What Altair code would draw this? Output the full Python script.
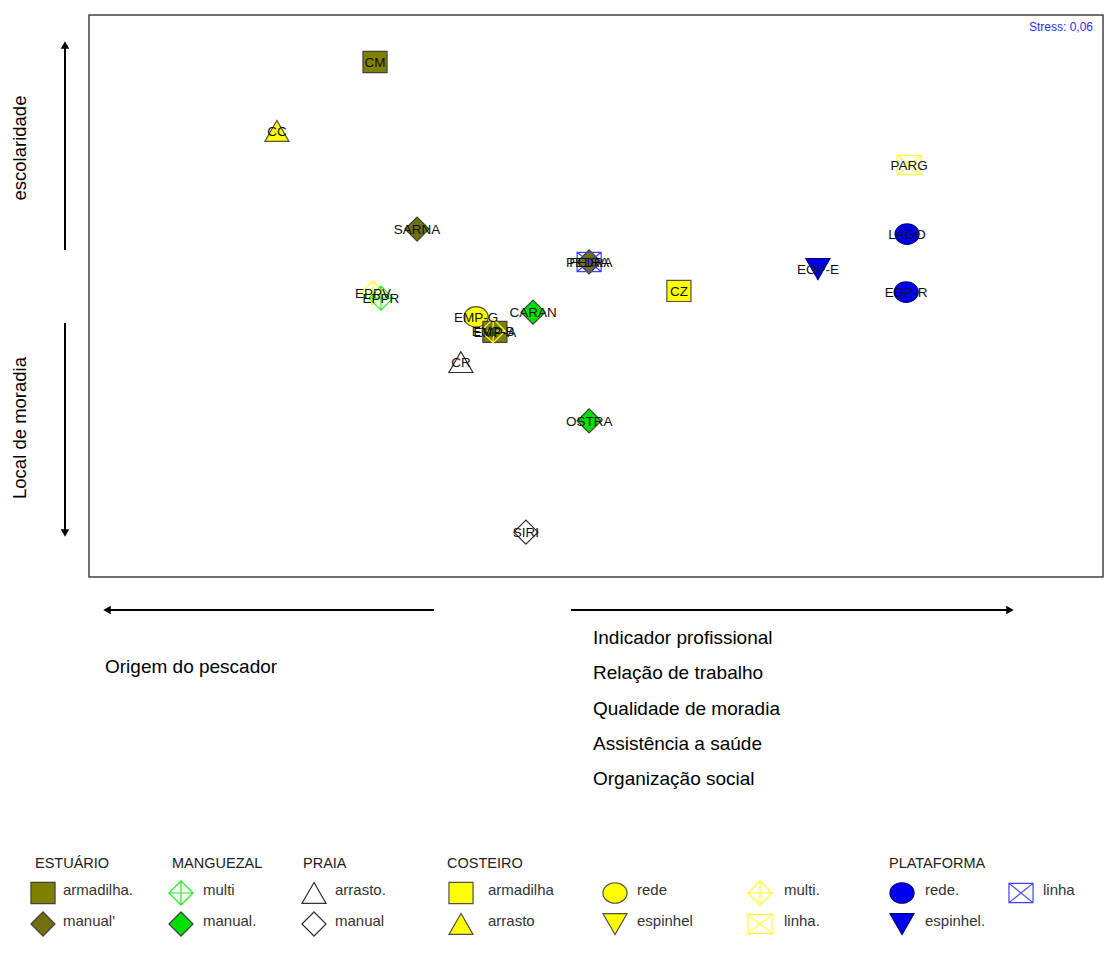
import altair as alt
import pandas as pd

# ---------------- MDS configuration ----------------
site = ["CM", "CC", "PARG", "SARNA", "LAGO", "FEIRA", "PEDRA", "CZ", "EGP-E", "EGP-R",
        "EPPV", "EPPR", "EMP-G", "EMP-A", "EMP-B", "CARAN", "CR", "OSTRA", "SIRI"]
dim1 = [-0.741, -1.070, 1.050, -0.600, 1.043, -0.023, -0.023, 0.278, 0.744, 1.040,
        -0.748, -0.721, -0.402, -0.339, -0.345, -0.211, -0.453, -0.023, -0.235]
dim2 = [0.783, 0.552, 0.438, 0.224, 0.207, 0.114, 0.114, 0.017, 0.090, 0.013,
        0.010, -0.007, -0.070, -0.120, -0.117, -0.054, -0.221, -0.418, -0.790]
group = ["est_arm", "cos_arr", "cos_linha", "est_man", "pla_rede", "est_man", "pla_linha",
         "cos_arm", "pla_esp", "pla_rede", "cos_multi", "man_multi", "cos_rede", "est_arm",
         "cos_multi", "man_man", "pra_arr", "man_man", "pra_man"]
stress_text = "Stress: 0,06"

# ---------------- symbol styles per group ----------------
MULTI = "M0,-1L1,0L0,1L-1,0Z M-1,0L1,0 M0,-1L0,1"
BOXX = "M-1,-0.8L1,-0.8L1,0.8L-1,0.8Z M-1,-0.8L1,0.8 M1,-0.8L-1,0.8"
ELL = "M-1,0A1,0.85,0,1,1,1,0A1,0.85,0,1,1,-1,0Z"
RECT = "M-1,-0.88L1,-0.88L1,0.88L-1,0.88Z"

grp_ids = ["est_arm", "est_man", "man_multi", "man_man", "pra_arr", "pra_man",
           "cos_arm", "cos_arr", "cos_rede", "cos_esp", "cos_multi", "cos_linha",
           "pla_rede", "pla_esp", "pla_linha"]
grp_shapes = [RECT, "diamond", MULTI, "diamond", "triangle-up", "diamond",
              RECT, "triangle-up", ELL, "triangle-down", MULTI, BOXX,
              ELL, "triangle-down", BOXX]
grp_fills = ["#808000", "#707010", "transparent", "#00e000", "#ffffff", "#ffffff",
             "#ffff00", "#ffff00", "#ffff00", "#ffff00", "transparent", "transparent",
             "#0000ee", "#0000ee", "transparent"]
grp_strokes = ["#404040", "#404040", "#22ee22", "#404040", "#333333", "#333333",
               "#505050", "#505050", "#505050", "#505050", "#ffff33", "#ffff33",
               "#000080", "#000080", "#4040ff"]
grp_sizes = [580, 580, 620, 580, 760, 580, 580, 760, 560, 760, 620, 660, 560, 760, 660]

# ---------------- legend content ----------------
leg_headers = ["ESTUÁRIO", "MANGUEZAL", "PRAIA", "COSTEIRO", "PLATAFORMA"]
leg_header_col = [0, 1, 2, 3, 6]
leg_group = ["est_arm", "est_man", "man_multi", "man_man", "pra_arr", "pra_man",
             "cos_arm", "cos_arr", "cos_rede", "cos_esp", "cos_multi", "cos_linha",
             "pla_rede", "pla_esp", "pla_linha"]
leg_label = ["armadilha.", "manual'", "multi", "manual.", "arrasto.", "manual",
             "armadilha", "arrasto", "rede", "espinhel", "multi.", "linha.",
             "rede.", "espinhel.", "linha"]
leg_col = [0, 0, 1, 1, 2, 2, 3, 3, 4, 4, 5, 5, 6, 6, 7]
leg_row = [0, 1, 0, 1, 0, 1, 0, 1, 0, 1, 0, 1, 0, 1, 0]

axis_left_terms = ["escolaridade", "Local de moradia"]
axis_bottom_left = "Origem do pescador"
axis_bottom_right = ["Indicador profissional", "Relação de trabalho",
                     "Qualidade de moradia", "Assistência a saúde", "Organização social"]

FONT = "Liberation Sans"

pts = pd.DataFrame({"site": site, "d1": dim1, "d2": dim2, "group": group})
leg = pd.DataFrame({"group": leg_group, "label": leg_label, "col": leg_col, "row": leg_row})
hdr = pd.DataFrame({"text": leg_headers, "col": leg_header_col})
one = pd.DataFrame({"k": [0]})
rt = pd.DataFrame({"text": axis_bottom_right, "i": list(range(len(axis_bottom_right)))})
lt = pd.DataFrame({"text": axis_left_terms, "i": [0, 1]})

xs = alt.Scale(domain=[-1.7, 1.7], range=[81, 1095])
ys = alt.Scale(domain=[-0.94, 0.94], range=[569, 7])
shape_s = alt.Shape("group:N", scale=alt.Scale(domain=grp_ids, range=grp_shapes), legend=None)
fill_s = alt.Fill("group:N", scale=alt.Scale(domain=grp_ids, range=grp_fills), legend=None)
stroke_s = alt.Stroke("group:N", scale=alt.Scale(domain=grp_ids, range=grp_strokes), legend=None)
size_s = alt.Size("group:N", scale=alt.Scale(domain=grp_ids, range=grp_sizes), legend=None)

frame = alt.Chart(one).mark_rect(fill="white", stroke="#444444", strokeWidth=1.5).encode(
    x=alt.value(81), x2=alt.value(1095), y=alt.value(7), y2=alt.value(569))

points = alt.Chart(pts).mark_point(opacity=1, strokeWidth=1.2).encode(
    x=alt.X("d1:Q", scale=xs, axis=None),
    y=alt.Y("d2:Q", scale=ys, axis=None),
    shape=shape_s, fill=fill_s, stroke=stroke_s, size=size_s)

labels = alt.Chart(pts).mark_text(font=FONT, fontSize=13.5, color="#111111",
                                   baseline="middle", align="center", dy=1).encode(
    x=alt.X("d1:Q", scale=xs, axis=None),
    y=alt.Y("d2:Q", scale=ys, axis=None),
    text="site:N")

stress = alt.Chart(one).mark_text(font=FONT, fontSize=12, color="#2b2bff", align="right",
                                  baseline="middle", text=stress_text).encode(
    x=alt.value(1085), y=alt.value(19))

# arrows
rule_kw = dict(color="black", strokeWidth=2)
arrows = [
    alt.Chart(one).mark_rule(**rule_kw).encode(x=alt.value(57), y=alt.value(36), y2=alt.value(242)),
    alt.Chart(one).mark_rule(**rule_kw).encode(x=alt.value(57), y=alt.value(315), y2=alt.value(525)),
    alt.Chart(one).mark_rule(**rule_kw).encode(y=alt.value(602), x=alt.value(99), x2=alt.value(426)),
    alt.Chart(one).mark_rule(**rule_kw).encode(y=alt.value(602), x=alt.value(563), x2=alt.value(1001)),
]
head_kw = dict(filled=True, color="black", opacity=1, size=75)
heads = [
    alt.Chart(one).mark_point(shape="triangle-up", **head_kw).encode(x=alt.value(57), y=alt.value(37)),
    alt.Chart(one).mark_point(shape="triangle-down", **head_kw).encode(x=alt.value(57), y=alt.value(525)),
    alt.Chart(one).mark_point(shape="triangle-left", **head_kw).encode(x=alt.value(99), y=alt.value(602)),
    alt.Chart(one).mark_point(shape="triangle-right", **head_kw).encode(x=alt.value(1002), y=alt.value(602)),
]

left_text = alt.Chart(lt).mark_text(font=FONT, fontSize=18.5, color="black", angle=270,
                                    align="center", baseline="middle").encode(
    x=alt.value(12),
    y=alt.Y("i:Q", scale=alt.Scale(domain=[0, 1], range=[140, 420]), axis=None),
    text="text:N")

bottom_left = alt.Chart(one).mark_text(font=FONT, fontSize=19, color="black", align="left",
                                       baseline="middle", text=axis_bottom_left).encode(
    x=alt.value(97), y=alt.value(659))

bottom_right = alt.Chart(rt).mark_text(font=FONT, fontSize=19, color="black", align="left",
                                       baseline="middle").encode(
    x=alt.value(585),
    y=alt.Y("i:Q", scale=alt.Scale(domain=[0, 4], range=[630, 771]), axis=None),
    text="text:N")

# legend
sym_x = alt.Scale(domain=[0, 1, 2, 3, 4, 5, 6, 7], range=[35, 173, 306, 453, 607, 752, 894, 1013])
txt_x = alt.Scale(domain=[0, 1, 2, 3, 4, 5, 6, 7], range=[55, 195, 327, 480, 629, 776, 917, 1035])
hdr_x = alt.Scale(domain=[0, 1, 2, 3, 6], range=[27, 164, 295, 439, 881])
row_y = alt.Scale(domain=[0, 1], range=[885, 916])

leg_sym = alt.Chart(leg).mark_point(opacity=1, strokeWidth=1.2).encode(
    x=alt.X("col:Q", scale=sym_x, axis=None),
    y=alt.Y("row:Q", scale=row_y, axis=None),
    shape=shape_s, fill=fill_s, stroke=stroke_s, size=size_s)

leg_txt = alt.Chart(leg).mark_text(font=FONT, fontSize=15, color="#333333", align="left",
                                   baseline="middle", dy=-3).encode(
    x=alt.X("col:Q", scale=txt_x, axis=None),
    y=alt.Y("row:Q", scale=row_y, axis=None),
    text="label:N")

leg_hdr = alt.Chart(hdr).mark_text(font=FONT, fontSize=14.5, color="#222222", align="left",
                                   baseline="middle").encode(
    x=alt.X("col:Q", scale=hdr_x, axis=None),
    y=alt.value(856),
    text="text:N")

chart = alt.layer(
    frame, points, labels, stress, *arrows, *heads, left_text, bottom_left, bottom_right,
    leg_sym, leg_txt, leg_hdr
).resolve_scale(
    x="independent", y="independent"
).properties(
    width=1096, height=936, padding=0, autosize="none", background="white"
).configure_view(stroke=None)

chart.save("out.html", embed_options={"renderer": "svg", "actions": False})
